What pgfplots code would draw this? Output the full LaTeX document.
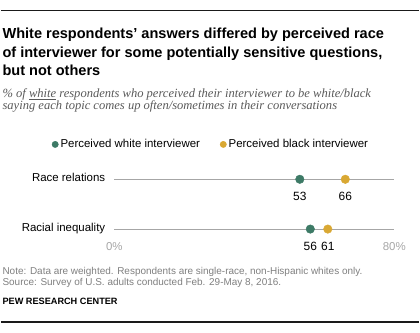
\documentclass[border=0pt]{standalone}
\usepackage{pgfplots}
\pgfplotsset{compat=1.18}
\usepackage{fontspec}
\setmainfont{Liberation Sans}
\newfontfamily\serifit{Liberation Serif}
\definecolor{pgreen}{HTML}{3D7A66}
\definecolor{pgold}{HTML}{D9A833}
\definecolor{lgray}{HTML}{A6A6A6}
\definecolor{notegray}{HTML}{7F7F7F}
\definecolor{subgray}{HTML}{595959}
\definecolor{rulec}{HTML}{1A1A1A}
\begin{document}
\begin{tikzpicture}[x=1pt,y=1pt]
\path (0,0) rectangle (420,334);
\draw[rulec, line width=1.7pt] (0,323.5) -- (420,323.5);
\draw[rulec, line width=1.7pt] (0,11) -- (420,11);
% title (base = last line)
\node[anchor=base west, inner sep=0pt, align=left, font=\fontsize{14.6}{18.6}\selectfont\bfseries] at (1.5,258)
 {White respondents’ answers differed by perceived race\\of interviewer for some potentially sensitive questions,\\but not others};
% subtitle
\node[anchor=base west, inner sep=0pt, align=left, text=subgray, font=\fontsize{12.6}{12}\selectfont\serifit\itshape] at (1.5,224)
 {\% of \underline{white} respondents who perceived their interviewer to be white/black\\saying each topic comes up often/sometimes in their conversations};
% notes
\node[anchor=base west, inner sep=0pt, align=left, text=notegray, font=\fontsize{10}{11.5}\selectfont] at (1.5,47)
 {Note: Data are weighted. Respondents are single-race, non-Hispanic whites only.\\Source: Survey of U.S. adults conducted Feb. 29-May 8, 2016.};
\node[anchor=base west, inner sep=0pt, font=\fontsize{9.2}{11}\selectfont\bfseries] at (1.5,28.3)
 {PEW RESEARCH CENTER};
\begin{axis}[
  at={(114pt,104pt)}, anchor=south west,
  scale only axis, width=281pt, height=50pt,
  xmin=0, xmax=80, ymin=0, ymax=1,
  enlargelimits=false, clip=false,
  axis line style={draw=none},
  major tick length=0pt,
  /pgf/number format/assume math mode=true,
  xtick={0,80}, xticklabels={0\%,80\%},
  xticklabel style={text=lgray, font=\fontsize{11.5}{12}\selectfont, anchor=center, yshift=-18pt},
  ytick={0,1}, yticklabels={Racial inequality,Race relations},
  yticklabel style={font=\fontsize{11.5}{12}\selectfont, inner sep=0pt, anchor=base east, xshift=-9pt, yshift=-2pt},
  legend style={at={(axis cs:27.6,1.7)}, anchor=center, draw=none, fill=none,
    font=\fontsize{11.5}{12}\selectfont, legend columns=2,
    /tikz/every even column/.append style={column sep=18pt}},
  legend cell align=left,
  every node near coord/.style={anchor=center, yshift=-17.5pt, font=\fontsize{12}{12}\selectfont, text=black},
]
\addplot[lgray, line width=0.9pt, forget plot] coordinates {(0,1) (80,1)};
\addplot[lgray, line width=0.9pt, forget plot] coordinates {(0,0) (80,0)};
\addplot[only marks, mark=*, mark size=4.3pt, pgreen, mark options={draw=pgreen, fill=pgreen},
  nodes near coords, point meta=x,
  legend image code/.code={\fill[pgreen] (0pt,0pt) circle (3.2pt);}]
  coordinates {(53,1) (56,0)};
\addlegendentry{Perceived white interviewer}
\addplot[only marks, mark=*, mark size=4.3pt, pgold, mark options={draw=pgold, fill=pgold},
  nodes near coords, point meta=x,
  legend image code/.code={\fill[pgold] (0pt,0pt) circle (3.2pt);}]
  coordinates {(66,1) (61,0)};
\addlegendentry{Perceived black interviewer}
\end{axis}
\end{tikzpicture}
\end{document}
